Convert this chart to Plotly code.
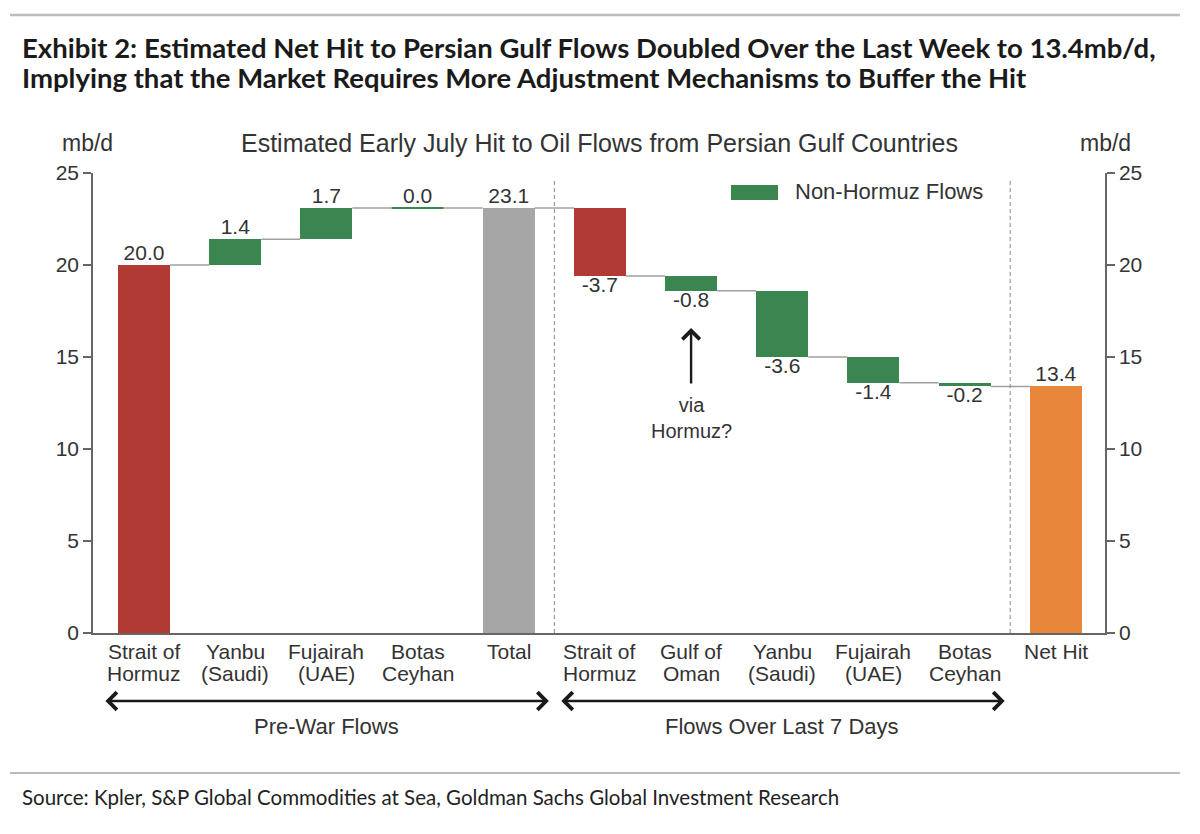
import plotly.graph_objects as go

# ---------------- data ----------------
categories = ["Strait of<br>Hormuz", "Yanbu<br>(Saudi)", "Fujairah<br>(UAE)", "Botas<br>Ceyhan", "Total",
              "Strait of<br>Hormuz", "Gulf of<br>Oman", "Yanbu<br>(Saudi)", "Fujairah<br>(UAE)", "Botas<br>Ceyhan",
              "Net Hit"]
measures = ["absolute", "relative", "relative", "relative", "total",
            "relative", "relative", "relative", "relative", "relative", "total"]
values = [20.0, 1.4, 1.7, 0.0, 23.1, -3.7, -0.8, -3.6, -1.4, -0.2, 13.4]
kinds = ["hormuz", "non", "non", "non", "total", "hormuz", "non", "non", "non", "non", "net"]
y_ticks = [0, 5, 10, 15, 20, 25]
groups = [("Pre-War Flows", 0, 4), ("Flows Over Last 7 Days", 5, 9)]

kind_colors = {"hormuz": "#B23A35", "non": "#3A8550", "total": "#A6A6A6", "net": "#E8873B"}
FONT = "Liberation Sans"
TXT = "#333333"
AX = "#666666"
BAR_W = 0.57

# ---------------- waterfall geometry ----------------
xs = list(range(len(categories)))
bases, heights, levels = [], [], []
level = 0.0
for m, v in zip(measures, values):
    if m == "absolute":
        b, h, level = 0.0, v, v
    elif m == "relative":
        b, h = level, v
        level = round(level + v, 4)
    else:
        b, h, level = 0.0, v, v
    bases.append(b)
    heights.append(h)
    levels.append(level)

colors = [kind_colors[k] for k in kinds]

fig = go.Figure()

fig.add_trace(go.Bar(x=xs, y=heights, base=bases, width=BAR_W, marker=dict(color=colors, line=dict(width=0)),
                     showlegend=False, hoverinfo="skip"))

# connectors
cx, cy = [], []
for i in range(len(xs) - 1):
    cx += [xs[i] + BAR_W / 2, xs[i + 1] - BAR_W / 2, None]
    cy += [levels[i], levels[i], None]
fig.add_trace(go.Scatter(x=cx, y=cy, mode="lines", line=dict(color="#A0A0A0", width=1.5),
                         showlegend=False, hoverinfo="skip"))

# zero-size bars drawn as a thin line in their colour
for i, h in enumerate(heights):
    if h == 0:
        fig.add_trace(go.Scatter(x=[xs[i] - BAR_W / 2, xs[i] + BAR_W / 2], y=[levels[i], levels[i]],
                                 mode="lines", line=dict(color=colors[i], width=2),
                                 showlegend=False, hoverinfo="skip"))

# value labels
ty, tpos = [], []
for b, h in zip(bases, heights):
    ty.append(b + h)
    tpos.append("bottom center" if h < 0 else "top center")
fig.add_trace(go.Scatter(x=xs, y=ty, mode="text", text=[f"{v:.1f}" for v in values], textposition=tpos,
                         textfont=dict(family=FONT, size=21, color=TXT), cliponaxis=False,
                         showlegend=False, hoverinfo="skip"))

# invisible trace for right axis
fig.add_trace(go.Scatter(x=[xs[0]], y=[0], yaxis="y2", mode="markers", marker=dict(opacity=0),
                         showlegend=False, hoverinfo="skip"))

# ---------------- layout ----------------
yax = dict(range=[0, 25], tickvals=y_ticks, ticks="outside", ticklen=8, tickcolor=AX, tickwidth=1.5,
           showline=True, linecolor=AX, linewidth=1.5, showgrid=False, zeroline=False,
           tickfont=dict(family=FONT, size=21, color=TXT))

fig.update_layout(
    width=1200, height=834,
    margin=dict(l=93, r=95, t=173, b=201),
    paper_bgcolor="white", plot_bgcolor="white",
    xaxis=dict(range=[-0.56, 10.54], tickvals=xs, showticklabels=False, ticks="", showline=True,
               linecolor=AX, linewidth=1.5, showgrid=False, zeroline=False),
    yaxis=yax,
    yaxis2=dict(yax, overlaying="y", side="right"),
    bargap=0,
)

shapes = [
    dict(type="line", xref="x", yref="y", x0=4.5, x1=4.5, y0=0, y1=24.6,
         line=dict(color="#888888", width=1, dash="4px,3px")),
    dict(type="line", xref="x", yref="y", x0=9.5, x1=9.5, y0=0, y1=24.6,
         line=dict(color="#888888", width=1, dash="4px,3px")),
    # legend swatch
    dict(type="rect", xref="paper", yref="paper", x0=0.6304, x1=0.6769, y0=0.9413, y1=0.9739,
         fillcolor=kind_colors["non"], line=dict(width=0)),
    # header / footer rules
    dict(type="line", xref="paper", yref="paper", x0=-0.082, x1=1.074, y0=1.3435, y1=1.3435,
         line=dict(color="#BBBBBB", width=2.5)),
    dict(type="line", xref="paper", yref="paper", x0=-0.082, x1=1.074, y0=-0.3043, y1=-0.3043,
         line=dict(color="#BBBBBB", width=2)),
]
fig.update_layout(shapes=shapes)

ann = []
# category labels (two lines, tight spacing)
for x, cat in zip(xs, categories):
    for j, line in enumerate(cat.split("<br>")):
        ann.append(dict(xref="x", yref="paper", x=x, y=-0.0413 - 0.0457 * j, xanchor="center", yanchor="middle",
                        showarrow=False, text=line, font=dict(family=FONT, size=21, color=TXT)))
# header title (two lines)
for y, line in [(1.272, "Exhibit 2: Estimated Net Hit to Persian Gulf Flows Doubled Over the Last Week to 13.4mb/d,"),
                (1.207, "Implying that the Market Requires More Adjustment Mechanisms to Buffer the Hit")]:
    ann.append(dict(xref="paper", yref="paper", x=-0.0721, y=y, xanchor="left", yanchor="middle", align="left",
                    showarrow=False, text=line,
                    font=dict(family="Lato", size=27.5, color="#1A1A1A", weight="bold")))
ann.append(dict(xref="paper", yref="paper", x=-0.0721, y=-0.3565, xanchor="left", yanchor="middle",
                showarrow=False,
                text="Source: Kpler, S&P Global Commodities at Sea, Goldman Sachs Global Investment Research",
                font=dict(family="Lato", size=20.5, color="#222222")))
ann.append(dict(xref="paper", yref="paper", x=0.5, y=1.065, xanchor="center", yanchor="middle", showarrow=False,
                text="Estimated Early July Hit to Oil Flows from Persian Gulf Countries",
                font=dict(family=FONT, size=25, color=TXT)))
ann.append(dict(xref="paper", yref="paper", x=-0.005, y=1.065, xanchor="center", yanchor="middle", showarrow=False,
                text="mb/d", font=dict(family=FONT, size=23, color=TXT)))
ann.append(dict(xref="paper", yref="paper", x=1.0, y=1.065, xanchor="center", yanchor="middle", showarrow=False,
                text="mb/d", font=dict(family=FONT, size=23, color=TXT)))
ann.append(dict(xref="paper", yref="paper", x=0.6917, y=0.9587, xanchor="left", yanchor="middle", showarrow=False,
                text="Non-Hormuz Flows", font=dict(family=FONT, size=22, color=TXT)))
# group arrows
for label, i0, i1 in groups:
    x0, x1, xc = i0 - 0.44, i1 + 0.44, (i0 + i1) / 2
    ann.append(dict(xref="x", yref="paper", axref="x", ayref="pixel", x=x1, y=-0.1478, ax=x0, ay=0, text="",
                    showarrow=True, arrowhead=4, startarrowhead=4, arrowside="end+start",
                    arrowwidth=2.6, arrowsize=1.3, startarrowsize=1.3, arrowcolor="#1A1A1A"))
    ann.append(dict(xref="x", yref="paper", x=xc, y=-0.2043, xanchor="center", yanchor="middle", showarrow=False,
                    text=label, font=dict(family=FONT, size=22, color=TXT)))
# "via Hormuz?" note
ann.append(dict(xref="x", yref="y", axref="x", ayref="y", x=6, y=16.58, ax=6, ay=13.48, text="",
                showarrow=True, arrowhead=4, arrowwidth=2.4, arrowsize=1.4, arrowcolor="#1A1A1A"))
ann.append(dict(xref="x", yref="y", x=6, y=11.71, xanchor="center", yanchor="middle", showarrow=False,
                text="via<br>Hormuz?", font=dict(family=FONT, size=20, color=TXT)))
fig.update_layout(annotations=ann)

fig.write_html("out.html")
